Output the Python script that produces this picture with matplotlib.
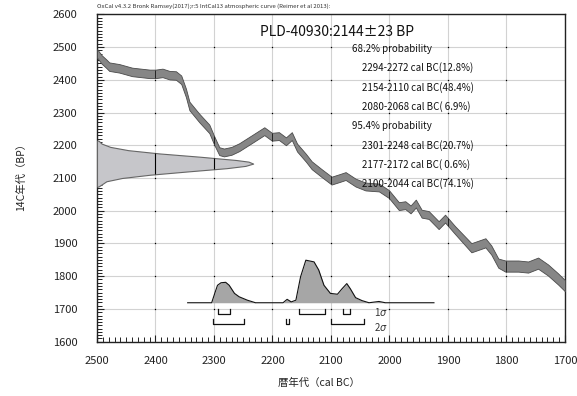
import matplotlib
import numpy as np

matplotlib.use("Agg")
import matplotlib.pyplot as plt
from matplotlib.ticker import MultipleLocator

plt.rcParams["font.family"] = ["Noto Sans CJK JP", "DejaVu Sans"]

# IntCal13 curve as drawn: cal BC, 14C BP mean and 1 sigma
cal_bc = [2500, 2492, 2484, 2479, 2462, 2440, 2410, 2400, 2388, 2376,
          2365, 2356, 2348, 2342, 2325, 2308, 2300, 2291, 2283, 2270,
          2257, 2235, 2214, 2201, 2189, 2177, 2167, 2158, 2143, 2133,
          2116, 2099, 2085, 2075, 2058, 2041, 2018, 2001, 1984, 1973,
          1964, 1955, 1945, 1933, 1916, 1905, 1888, 1860, 1836, 1826,
          1814, 1802, 1780, 1763, 1746, 1729, 1712, 1700]
bp_mean = [2481, 2462, 2449, 2440, 2435, 2424, 2418, 2418, 2421, 2414,
           2413, 2400, 2360, 2320, 2283, 2250, 2216, 2182, 2178, 2183,
           2194, 2219, 2243, 2226, 2228, 2212, 2228, 2193, 2162, 2139,
           2115, 2092, 2100, 2106, 2086, 2074, 2071, 2051, 2014, 2017,
           2004, 2022, 1991, 1987, 1956, 1976, 1941, 1887, 1902, 1880,
           1840, 1831, 1831, 1828, 1840, 1819, 1792, 1771]
bp_sigma = [13] * 12 + [13] * 5 + [12] * 14 + [12] * 16 + [14] * 4 + [17] * 7

# measured radiocarbon age (relative likelihood)
lik_bp = [2074, 2090, 2100, 2110, 2120, 2130, 2137, 2144, 2150, 2155,
          2165, 2175, 2185, 2195, 2205, 2214]
lik_rel = [0.01, 0.06, 0.16, 0.34, 0.58, 0.83, 0.95, 1.0, 0.97, 0.89,
           0.66, 0.40, 0.20, 0.085, 0.03, 0.01]

# calibrated probability (relative)
post_bc = [2345, 2304, 2298, 2294, 2288, 2280, 2274, 2265, 2257, 2243,
           2229, 2182, 2175, 2168, 2160, 2152, 2143, 2129, 2121, 2112,
           2101, 2089, 2081, 2073, 2067, 2058, 2047, 2035, 2018, 2007, 1924]
post_rel = [0, 0, 0.25, 0.41, 0.47, 0.48, 0.41, 0.22, 0.14, 0.06,
            0, 0, 0.08, 0.02, 0.06, 0.61, 1.0, 0.96, 0.77, 0.41,
            0.22, 0.20, 0.33, 0.45, 0.33, 0.12, 0.05, 0, 0.03, 0, 0]

ranges_1s = [(2294, 2272), (2154, 2110), (2080, 2068)]
probs_1s = [12.8, 48.4, 6.9]
ranges_2s = [(2301, 2248), (2177, 2172), (2100, 2044)]
probs_2s = [20.7, 0.6, 74.1]

lab_code = "PLD-40930"
age, age_err = 2144, 23

XMIN, XMAX, YMIN, YMAX = 2500, 1700, 1600, 2600

fig = plt.figure(figsize=(5.77, 3.96), dpi=100)
ax = fig.add_axes([0.1681, 0.1371, 0.8111, 0.8268])
ax.set_xlim(XMIN, XMAX)
ax.set_ylim(YMIN, YMAX)

ax.xaxis.set_major_locator(MultipleLocator(100))
ax.xaxis.set_minor_locator(MultipleLocator(10))
ax.yaxis.set_major_locator(MultipleLocator(100))
ax.yaxis.set_minor_locator(MultipleLocator(10))
ax.grid(True, which="major", color="#d2d2d2", lw=0.8)
ax.set_axisbelow(True)
ax.tick_params(which="both", direction="in", top=False, right=False, colors="#222222")
ax.tick_params(which="major", length=5, width=0.8, labelsize=8)
ax.tick_params(which="minor", length=3.5, width=0.7)
ax.tick_params(axis="y", pad=14)
ax.tick_params(axis="x", pad=10)
for s in ax.spines.values():
    s.set_linewidth(1.0)
    s.set_color("#222222")

# tiny marks at grid intersections
gx, gy = np.meshgrid(np.arange(XMAX + 100, XMIN, 100), np.arange(YMIN + 100, YMAX, 100))
ax.plot(gx.ravel(), gy.ravel(), "s", ms=0.9, mew=0, color="black", zorder=1)

# calibration curve band
c_x = np.array(cal_bc, float)
c_m = np.array(bp_mean, float)
c_s = np.array(bp_sigma, float)
ax.fill_between(c_x, c_m - c_s, c_m + c_s, color="#868686", ec="#4a4a4a", lw=0.6, zorder=3)
for g in range(2400, 1700, -100):
    lo = np.interp(g, c_x[::-1], (c_m - c_s)[::-1])
    hi = np.interp(g, c_x[::-1], (c_m + c_s)[::-1])
    ax.vlines(g, lo, hi, color="#222222", lw=0.7, zorder=4)

# measured age on the y axis
lik_scale = 267
l_bp = np.array(lik_bp, float)
l_r = np.array(lik_rel, float)
ax.fill_betweenx(l_bp, XMIN, XMIN - l_r * lik_scale, color="#c6c6ca", ec="#666666", lw=0.8, zorder=3)
fine = np.linspace(l_bp.min(), l_bp.max(), 600)
fine_r = np.interp(fine, l_bp, l_r)
for g in (2400, 2300):
    inside = fine[fine_r >= (XMIN - g) / lik_scale]
    if inside.size:
        ax.vlines(g, inside.min(), inside.max(), color="black", lw=0.8, zorder=4)

# calibrated distribution
base, height = 1719, 130
p_x = np.array(post_bc, float)
p_y = base + np.array(post_rel) * height
ax.fill_between(p_x, base, p_y, color="#a6a6a6", lw=0, zorder=3)
ax.plot(p_x, p_y, color="#111111", lw=0.8, zorder=4)

# range brackets
for ranges, top, bot in ((ranges_1s, 1699, 1685), (ranges_2s, 1668, 1653)):
    for a, b in ranges:
        ax.plot([a, a, b, b], [top, bot, bot, top], color="#111111", lw=0.9, zorder=4)
ax.text(2027, 1692, r"1$\it{\sigma}$", fontsize=7, va="center", ha="left", color="#333333")
ax.text(2027, 1645, r"2$\it{\sigma}$", fontsize=7, va="center", ha="left", color="#333333")

# annotations
ax.text(2222, 2546, f"{lab_code}:{age}±{age_err} BP", fontsize=10, va="center", ha="left", color="#111111")
lines = [("68.2% probability", 2064)]
lines += [(f"{a}-{b} cal BC({p:4.1f}%)", 2047) for (a, b), p in zip(ranges_1s, probs_1s)]
lines += [("95.4% probability", 2064)]
lines += [(f"{a}-{b} cal BC({p:4.1f}%)", 2047) for (a, b), p in zip(ranges_2s, probs_2s)]
for i, (t, x) in enumerate(lines):
    ax.text(x, 2495 - i * 59, t, fontsize=7, va="center", ha="left", color="#111111")

fig.text(0.168, 0.983, "OxCal v4.3.2 Bronk Ramsey(2017);r:5 IntCal13 atmospheric curve (Reimer et al 2013):",
         fontsize=4.3, va="center", ha="left", color="#333333")
fig.text(0.553, 0.033, "暦年代（cal BC）", fontsize=7.5, ha="center", va="center", color="#222222")
fig.text(0.037, 0.56, "14C年代（BP）", fontsize=7.5, ha="center", va="center", rotation=90, color="#222222")

fig.savefig("out.png", dpi=100)
